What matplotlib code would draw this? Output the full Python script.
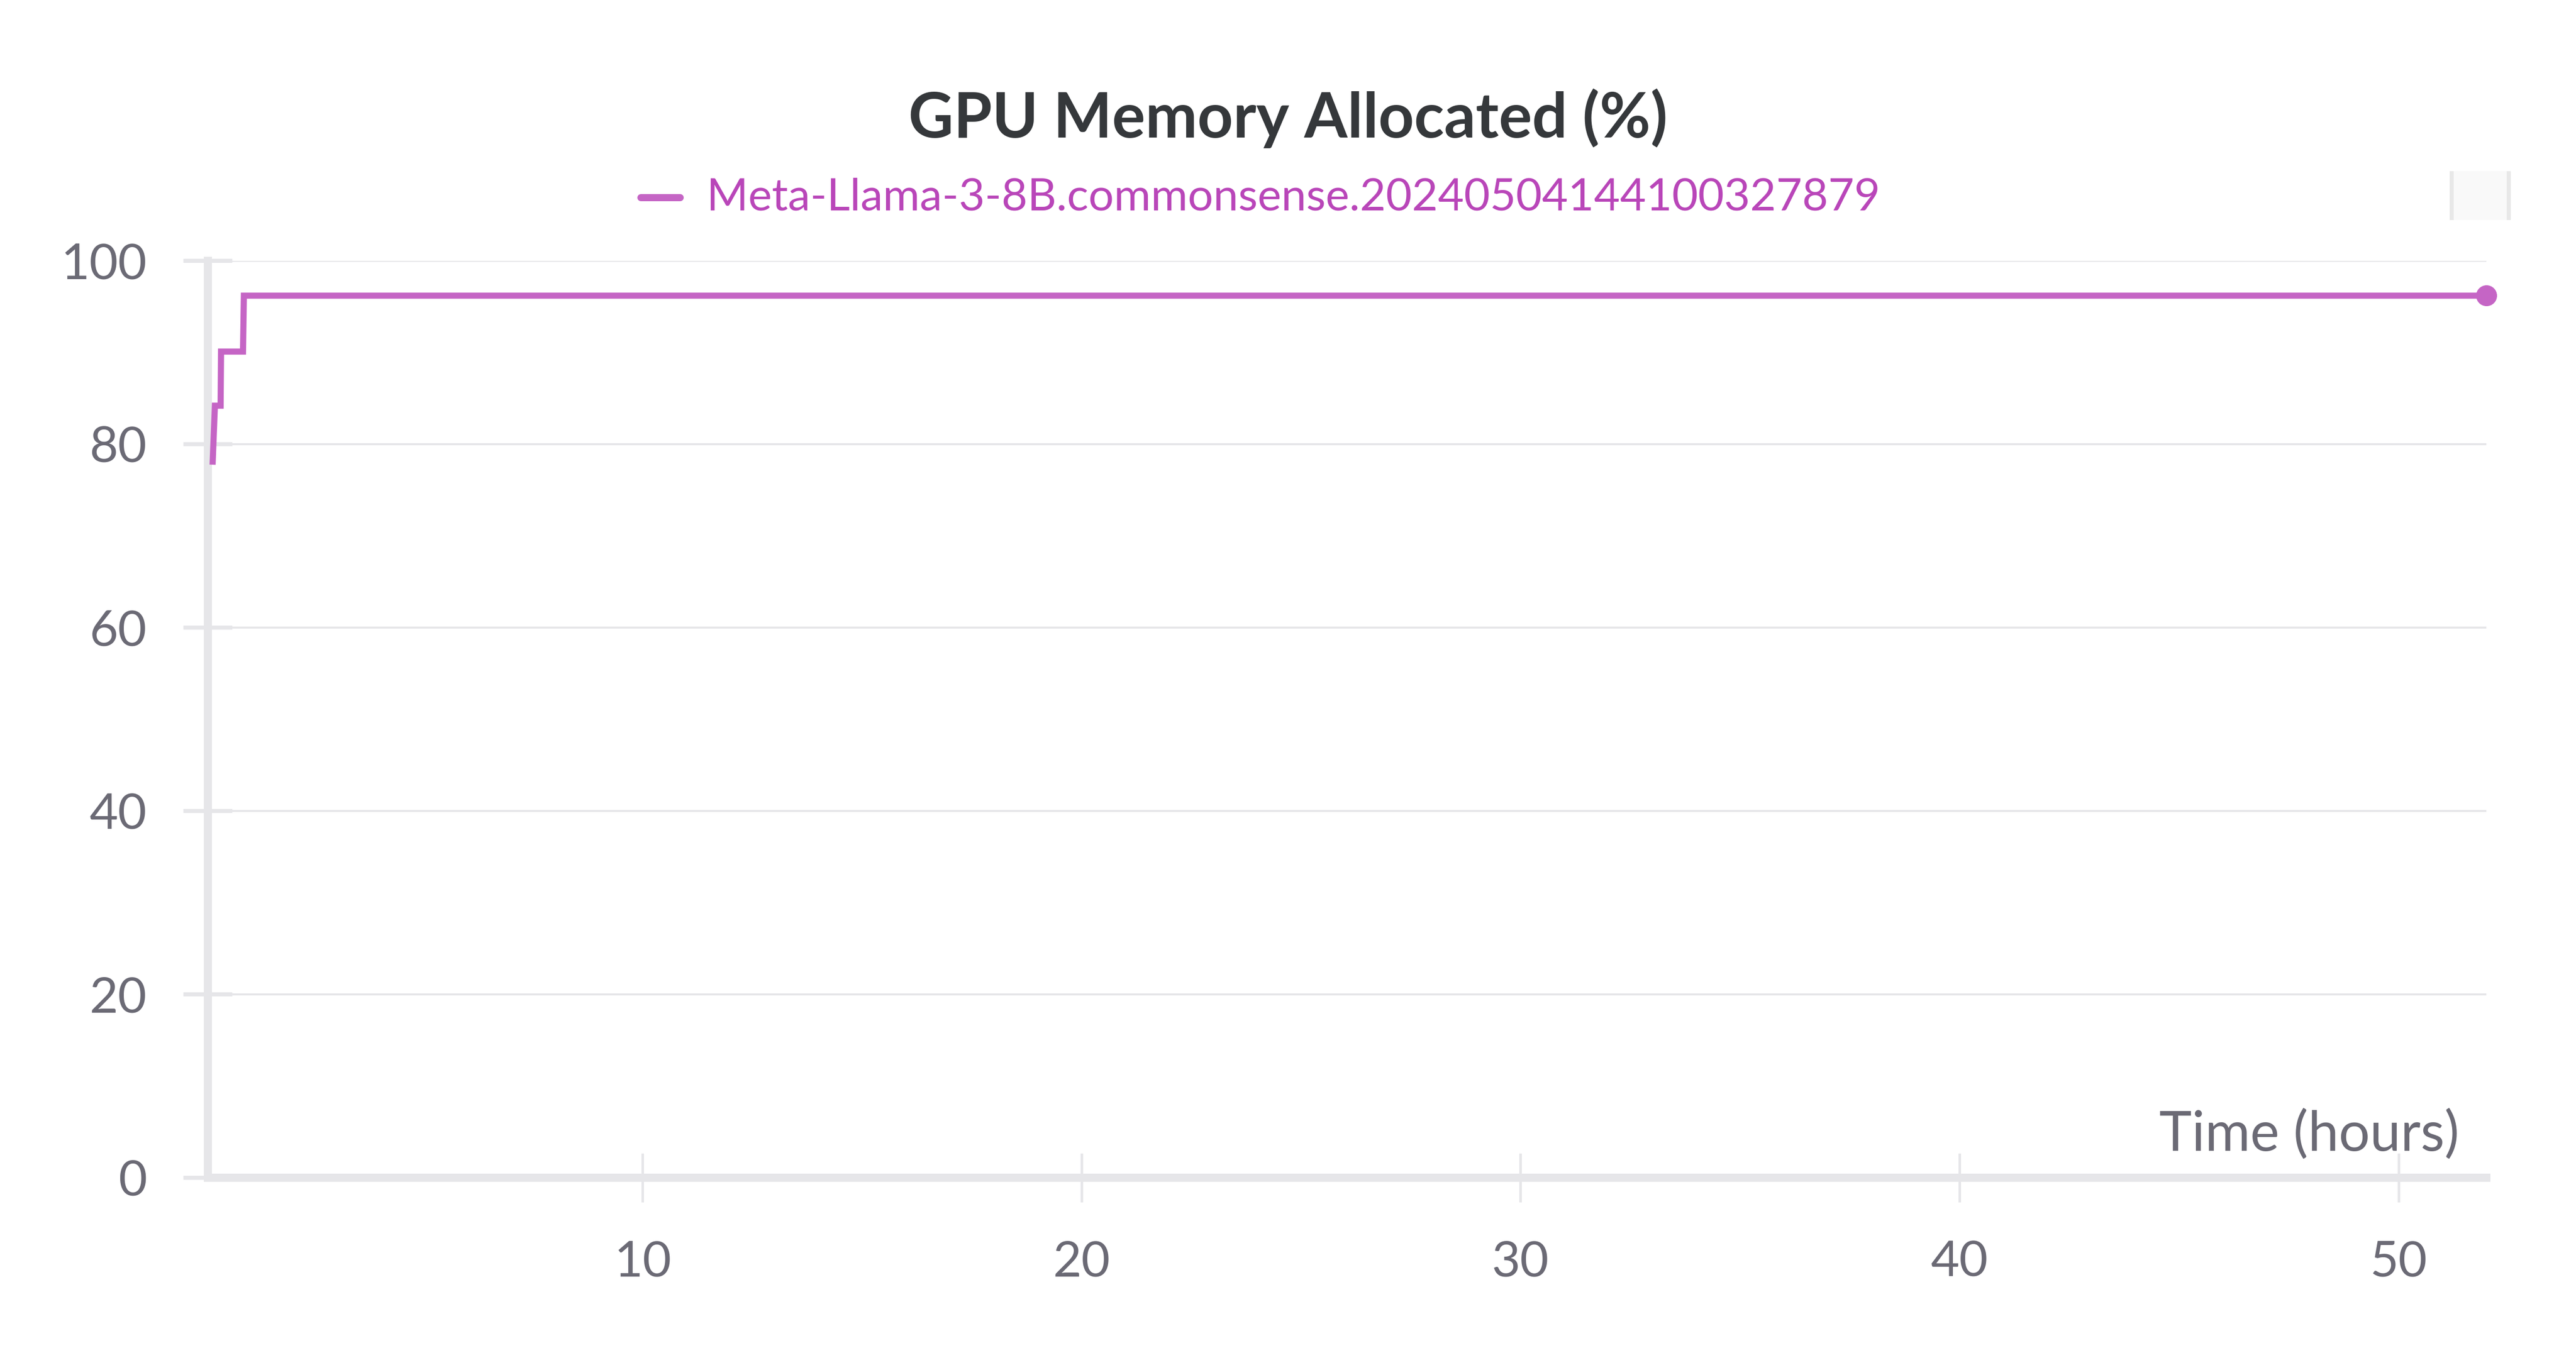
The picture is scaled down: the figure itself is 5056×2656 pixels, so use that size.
import matplotlib
matplotlib.use("Agg")
import matplotlib.pyplot as plt
from matplotlib.lines import Line2D
from matplotlib.patches import Rectangle

# run data
run_name = "Meta-Llama-3-8B.commonsense.20240504144100327879"
hours = [0.21, 0.26, 0.39, 0.40, 0.90, 0.92, 52.0]
mem_pct = [78.1, 84.2, 84.2, 90.1, 90.1, 96.2, 96.2]
y_ticks = [0, 20, 40, 60, 80, 100]
x_ticks = [10, 20, 30, 40, 50]

W, H, DPI = 5056, 2656, 72  # 1 pt == 1 px
LINE = "#c565c5"
TEXT_PURPLE = "#b946b9"
GREY_TXT = "#6b6a75"
GRID = "#e6e6e9"
FONT = ["Lato", "DejaVu Sans"]

plt.rcParams["font.family"] = FONT
fig = plt.figure(figsize=(W / DPI, H / DPI), dpi=DPI)
fig.patch.set_facecolor("white")

# axes box in pixels: left 408, right 4880, top 512, bottom 2312
ax = fig.add_axes([408 / W, 1 - 2312 / H, (4880 - 408) / W, (2312 - 512) / H])
ax.set_xlim(0.10, 52.0)
ax.set_ylim(0, 100)

ax.plot(hours, mem_pct, color=LINE, lw=12, solid_joinstyle="miter", zorder=3)
ax.plot(hours[-1], mem_pct[-1], "o", color=LINE, ms=40, clip_on=False, zorder=4)

for s in ["top", "right"]:
    ax.spines[s].set_visible(False)
for s in ["left", "bottom"]:
    ax.spines[s].set_color(GRID)
    ax.spines[s].set_linewidth(16)
    ax.spines[s].set_zorder(2)

ax.set_yticks(y_ticks)
ax.set_xticks(x_ticks)
ax.yaxis.grid(True, color=GRID, lw=4, zorder=1)
ax.set_axisbelow(True)
ax.tick_params(axis="y", direction="inout", length=96, width=8, color=GRID,
               labelsize=97, labelcolor=GREY_TXT, pad=72)
ax.tick_params(axis="x", direction="inout", length=96, width=5, color=GRID,
               labelsize=97, labelcolor=GREY_TXT, pad=74)

ax.text(0.988, 0.047, "Time (hours)", transform=ax.transAxes, ha="right",
        va="center", fontsize=108, color=GREY_TXT)

# title and legend
fig.text(0.5, 1 - 232 / H, "GPU Memory Allocated (%)", ha="center", va="center",
         fontsize=122, fontweight="bold", color="#35383b")
ly = 1 - 388 / H
fig.add_artist(Line2D([1258 / W, 1335 / W], [ly, ly], color=LINE, lw=14,
                      solid_capstyle="round"))
fig.text(1387 / W, ly, run_name, ha="left", va="center", fontsize=88,
         color=TEXT_PURPLE)

# little grey box at top right
bx, by, bw, bh = 4808 / W, 1 - 432 / H, 120 / W, 96 / H
fig.add_artist(Rectangle((bx, by), bw, bh, transform=fig.transFigure,
                         facecolor="#f9f9f9", edgecolor="none"))
for x0 in (bx, bx + bw - 8 / W):
    fig.add_artist(Rectangle((x0, by), 8 / W, bh, transform=fig.transFigure,
                             facecolor="#e8e8e8", edgecolor="none"))

fig.savefig("out.png", dpi=DPI)
